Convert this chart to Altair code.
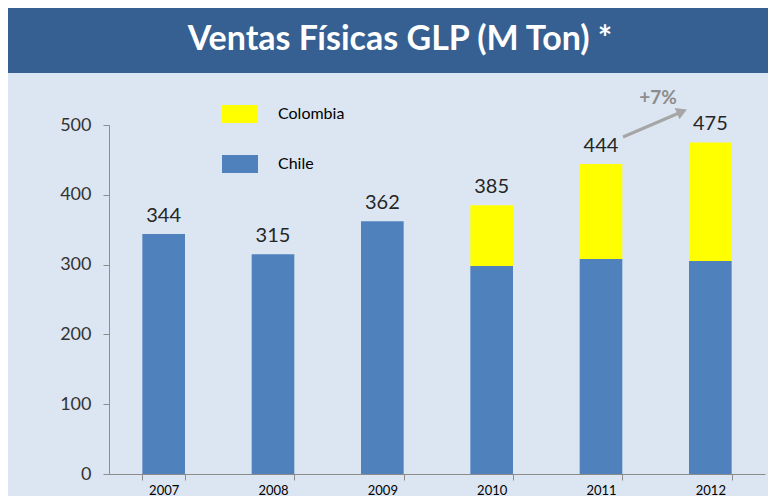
import altair as alt
import pandas as pd

years = ["2007", "2008", "2009", "2010", "2011", "2012"]
chile = [344, 315, 362, 298, 308, 305]
colombia = [0, 0, 0, 87, 136, 170]
totals = [344, 315, 362, 385, 444, 475]
series_names = ["Colombia", "Chile"]
series_colors = ["#ffff00", "#4f81bd"]
y_ticks = [0, 100, 200, 300, 400, 500]
title_text = "Ventas Físicas GLP (M Ton) *"
growth_label = "+7%"

rows = []
for yr, c, co in zip(years, chile, colombia):
    rows.append({"year": yr, "pais": "Chile", "valor": c, "orden": 0})
    if co:
        rows.append({"year": yr, "pais": "Colombia", "valor": co, "orden": 1})
df = pd.DataFrame(rows)
tot = pd.DataFrame({"year": years, "total": totals})

W, H = 656, 349
FONT = "Lato"
GRAY = "#8c8c8c"

xenc = alt.X(
    "year:N", sort=years, title=None,
    scale=alt.Scale(paddingInner=0.61, paddingOuter=0.305),
    axis=alt.Axis(labelAngle=0, labelFont=FONT, labelFontSize=13, labelColor="#000",
                  tickBand="extent", tickSize=6, tickColor=GRAY, domainColor=GRAY,
                  labelPadding=4, grid=False),
)
yscale = alt.Scale(domain=[0, 500], nice=False)

bars = alt.Chart(df).mark_bar(strokeWidth=0).encode(
    x=xenc,
    y=alt.Y("valor:Q", stack="zero", scale=yscale, title=None,
            axis=alt.Axis(values=y_ticks, labelFont=FONT, labelFontSize=18, labelColor="#333",
                          tickSize=6, tickColor=GRAY, domainColor=GRAY, labelPadding=12,
                          grid=False)),
    color=alt.Color("pais:N", scale=alt.Scale(domain=series_names, range=series_colors),
                    legend=alt.Legend(title=None, orient="none", legendX=113, legendY=-29,
                                      symbolType="M-1,-0.5H1V0.5H-1Z", symbolSize=1296,
                                      symbolStrokeWidth=0, symbolOpacity=1,
                                      labelFont=FONT, labelFontSize=16, labelColor="#000",
                                      labelOffset=20, rowPadding=23, padding=0)),
    order=alt.Order("orden:Q"),
)

labels = alt.Chart(tot).mark_text(dy=-18, fontSize=20, font=FONT, color="#262626").encode(
    x=alt.X("year:N", sort=years),
    y=alt.Y("total:Q", scale=yscale),
    text=alt.Text("total:Q"),
)

tdf = pd.DataFrame({"t": [title_text]})
title_bar = alt.Chart(tdf).mark_rect(color="#376092").encode(
    x=alt.value(-101), x2=alt.value(659), y=alt.value(-117), y2=alt.value(-52)
)
title = alt.Chart(tdf).mark_text(font=FONT, fontSize=34, fontWeight="bold", color="white").encode(
    x=alt.value(291), y=alt.value(-85), text="t:N"
)

gdf = pd.DataFrame({"g": [growth_label]})
arrow = alt.Chart(gdf).mark_rule(color="#a6a6a6", strokeWidth=3).encode(
    x=alt.value(514), y=alt.value(12), x2=alt.value(570), y2=alt.value(-12)
)
head = alt.Chart(gdf).mark_point(shape="triangle-up", filled=True, size=150, angle=67,
                                  color="#a6a6a6", opacity=1).encode(
    x=alt.value(573), y=alt.value(-13.5)
)
growth = alt.Chart(gdf).mark_text(font=FONT, fontSize=19, fontWeight="bold", color=GRAY).encode(
    x=alt.value(549), y=alt.value(-27), text="g:N"
)

chart = alt.layer(title_bar, title, bars, labels, arrow, head, growth).properties(
    width=W, height=H, background="#dce6f2",
    padding={"left": 101, "top": 117, "right": 3, "bottom": 22},
    autosize=alt.AutoSizeParams(type="none"),
).configure_view(stroke=None)

chart.save("out.html", embed_options={"renderer": "svg", "actions": False})
